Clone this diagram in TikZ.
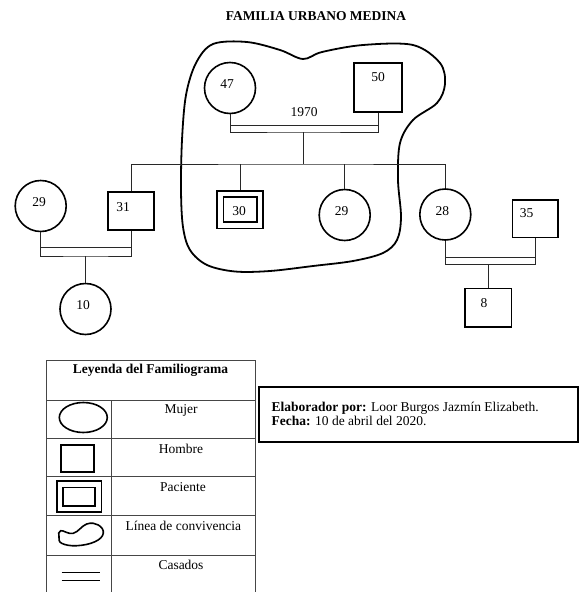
\documentclass[tikz,border=0pt]{standalone}
\usepackage{fontspec}
\setmainfont{Liberation Serif}
\usetikzlibrary{shapes.geometric}

\tikzset{
  mujer/.style={circle,draw,line width=1.6,minimum size=51,inner sep=0},
  hombre/.style={rectangle,draw,line width=1.6,inner sep=0},
  paciente/.style={rectangle,draw,line width=1.8,double,double distance=4.5,inner sep=0,outer sep=4},
  rama/.style={line width=0.9,color={rgb, 255:red, 40; green, 40; blue, 40 }},
  tabla/.style={line width=0.8,color={rgb, 255:red, 70; green, 70; blue, 70 }},
  num/.style={inner sep=0.75pt},
}

\begin{document}
\begin{tikzpicture}[x=1pt,y=1pt,yscale=-1,xscale=1,font=\fontsize{13.5}{14}\selectfont]
\useasboundingbox (0,0) rectangle (579,592);

% Text Node
\node[num] (titulo) at (316,16) {\textbf{FAMILIA URBANO MEDINA}};

%Curve Lines (linea de convivencia)
\draw[line width=1.8] plot[smooth cycle,tension=0.55] coordinates {
  (213,44) (247,42) (280,50) (303,59) (322,52) (363,45) (413,45) (440,63)
  (445,84) (437,103) (413,120) (400,143) (398,180) (401,217) (397,240)
  (383,253) (353,261) (313,266) (270,271) (235,271.5) (207,265) (190,250)
  (183,227) (181,190) (182,140) (186,95) (196,63)};

% Shapes
\node[mujer] (m47) at (230,88) {};
\node[hombre,minimum width=48.5,minimum height=49.5] (h50) at (378,87.5) {};
\node[mujer] (m29a) at (40.7,206) {};
\node[hombre,minimum width=46.5,minimum height=38.5] (h31) at (131,211) {};
\node[mujer] (m10) at (85.5,309) {};
\node[paciente,minimum width=39.75,minimum height=31.25] (p30) at (240.2,209.7) {};
\node[mujer] (m29b) at (344.7,215) {};
\node[mujer] (m28) at (445.3,214.5) {};
\node[hombre,minimum width=45.5,minimum height=37.5] (h35) at (535.3,218.7) {};
\node[hombre,minimum width=46.5,minimum height=38.5] (h8) at (488.3,307.7) {};

%Straight Lines
\coordinate (u1) at (303,132);
\draw[rama] (m47.south) |- (u1) -| (h50.south);
\draw[rama] (m47.south |- 0,125) -- (h50.south |- 0,125);
\coordinate (s1) at (303,164);
\draw[rama] (u1) -- (s1);
\draw[rama] (h31.north) |- (s1) -| (m28.north);
\draw[rama] (p30.north) -- (p30.north |- s1);
\draw[rama] (m29b.north) -- (m29b.north |- s1);
%Straight Lines
\coordinate (u2) at (85.5,256);
\draw[rama] (m29a.south) |- (u2) -| (h31.south);
\draw[rama] (m29a.south |- 0,247.5) -- (h31.south |- 0,247.5);
\draw[rama] (u2) -- (m10.north);
%Straight Lines
\coordinate (u3) at (488.3,264.3);
\draw[rama] (m28.south) |- (u3) -| (h35.south);
\draw[rama] (m28.south |- 0,257.3) -- (h35.south |- 0,257.3);
\draw[rama] (u3) -- (h8.north);

% Text Node
\node[num] (t47) at (227,84) {47};
\node[num] (t50) at (378,77) {50};
\node[num] (t1970) at (304,112) {1970};
\node[num] (t29a) at (39,202) {29};
\node[num] (t31) at (123,207) {31};
\node[num] (t10) at (83,305) {10};
\node[num] (t30) at (239,210.7) {30};
\node[num] (t29b) at (341.7,210.7) {29};
\node[num] (t28) at (442.3,210.7) {28};
\node[num] (t35) at (526.7,212.7) {35};
\node[num] (t8) at (484,302.7) {8};

% Legend table
\draw[tabla] (46,592) -- (46,360) -- (255,360) -- (255,592);
\draw[tabla] (111.7,400) -- (111.7,592);
\foreach \y in {400,438.3,476.7,515.7,555}
  \draw[tabla] (46,\y) -- (255,\y);

% Text Node
\node[num] (leyenda) at (150.5,370.7) {\textbf{Leyenda del Familiograma}};
\node[num] (lmujer) at (181,410.7) {Mujer};
\node[num] (lhombre) at (181,449) {Hombre};
\node[num] (lpaciente) at (183,486.7) {Paciente};
\node[num] (lconv) at (183.3,525.7) {Línea de convivencia};
\node[num] (lcasados) at (181,565) {Casados};

% Legend symbols
\node[ellipse,draw,line width=1.6,minimum width=48,minimum height=30,inner sep=0] (smujer) at (83.3,417.5) {};
\node[hombre,minimum width=33.5,minimum height=27] (shombre) at (77.5,458.3) {};
\node[paciente,minimum width=38.3,minimum height=24.7] (spaciente) at (79.2,496.7) {};
\draw[line width=1.6] plot[smooth cycle,tension=0.7] coordinates {
  (60.7,530.7) (73.3,533.3) (86.7,524) (98.3,525) (103.3,533.3)
  (95,541.7) (76.7,545.7) (61.7,543.3) (59,536.7)};
\draw[line width=1] (61.7,572.7) -- (100,572.7);
\draw[line width=1] (61.7,580) -- (100,580);

% Text Node
\draw[line width=2] (259.3,386.7) rectangle (577.7,441.7);
\node[num,anchor=west,align=left] (autor) at (270.7,413.7)
  {\textbf{Elaborador por:} Loor Burgos Jazmín Elizabeth.\\\textbf{Fecha:} 10 de abril del 2020.};

\end{tikzpicture}
\end{document}
